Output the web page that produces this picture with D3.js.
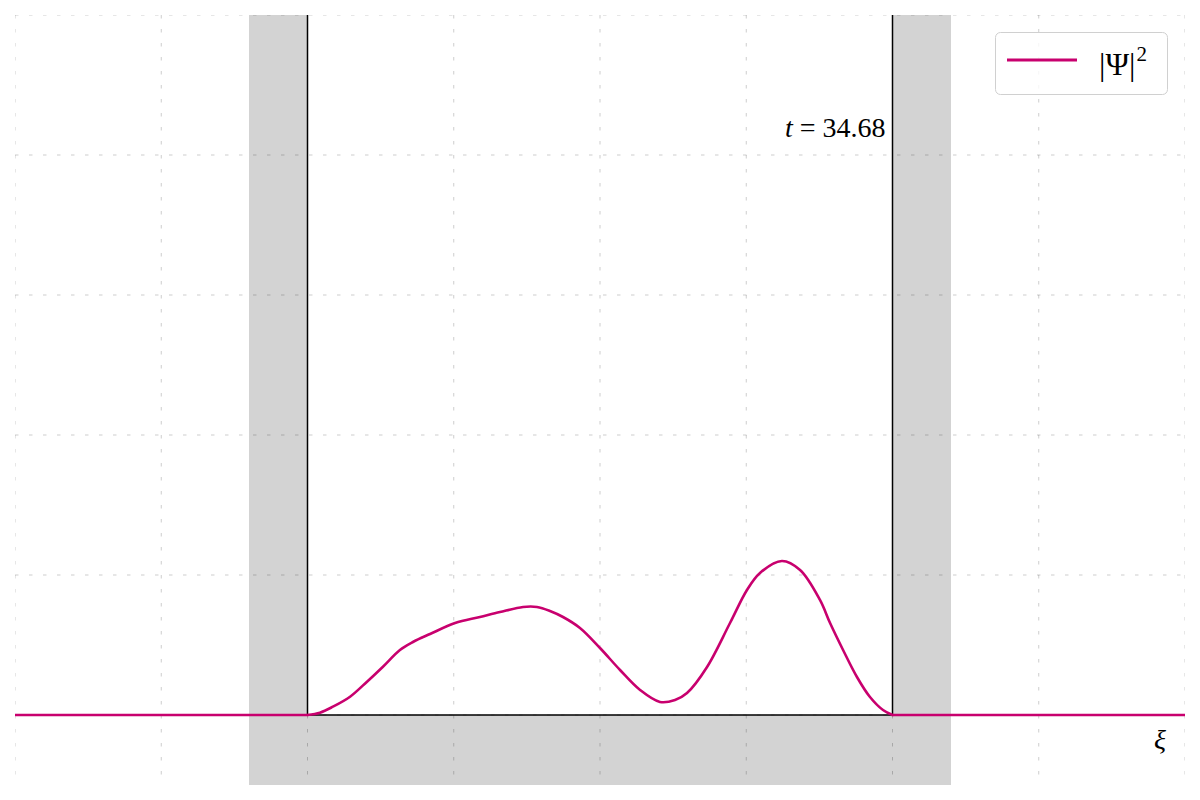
<!DOCTYPE html>
<html>
<head>
<meta charset="utf-8">
<script src="https://cdn.jsdelivr.net/npm/d3@7"></script>
<style>
  html, body { margin: 0; padding: 0; background: #fff; }
  svg { display: block; }
</style>
</head>
<body>
<svg id="chart" width="1200" height="800"></svg>
<script>
// ---- data ----
const xDomain = [-4, 4];
const yDomain = [-0.1, 1.0];
const xTicks = [-4, -3, -2, -1, 0, 1, 2, 3, 4];
const yTicks = [0, 0.2, 0.4, 0.6, 0.8, 1.0];
const wellLeft = -2, wellRight = 2, wallWidth = 0.4;
const timeLabel = "34.68";
const psiX = [-4, -3, -2.0, -1.915, -1.826, -1.709, -1.593, -1.484, -1.368, -1.279, -1.162, -0.991,
  -0.821, -0.684, -0.526, -0.431, -0.342, -0.253, -0.137, 0.000, 0.137, 0.274, 0.410,
  0.513, 0.595, 0.732, 0.889, 1.005, 1.094, 1.244, 1.368, 1.504, 1.573, 1.662, 1.757,
  1.846, 1.935, 2.0, 3, 4];
const psiY = [0, 0, 0, 0.0033, 0.0119, 0.0261, 0.0476, 0.0690, 0.0929, 0.1043, 0.1157, 0.1314,
  0.140, 0.1471, 0.1543, 0.1543, 0.1486, 0.140, 0.1243, 0.0957, 0.0643, 0.0357, 0.0186,
  0.0214, 0.0314, 0.0686, 0.1314, 0.1786, 0.2029, 0.220, 0.2071, 0.1643, 0.1314, 0.0929, 0.0543,
  0.0257, 0.0071, 0, 0, 0];

// ---- layout ----
const svg = d3.select("#chart");
const L = 15, R = 1185, T = 15, B = 785;
const x = d3.scaleLinear().domain(xDomain).range([L, R]);
const y = d3.scaleLinear().domain(yDomain).range([B, T]);
const pink = "#c8006e";

svg.append("defs").append("clipPath").attr("id", "clip")
  .append("rect").attr("x", L).attr("y", T).attr("width", R - L).attr("height", B - T);

const g = svg.append("g").attr("clip-path", "url(#clip)");

// potential walls (U shape)
const wallPts = [
  [wellLeft - wallWidth, yDomain[1]], [wellLeft, yDomain[1]], [wellLeft, 0],
  [wellRight, 0], [wellRight, yDomain[1]], [wellRight + wallWidth, yDomain[1]],
  [wellRight + wallWidth, yDomain[0]], [wellLeft - wallWidth, yDomain[0]]
];
g.append("path")
  .attr("d", d3.line().x(d => x(d[0])).y(d => y(d[1]))(wallPts) + "Z")
  .attr("fill", "#d3d3d3");

// grid
g.append("g").selectAll("line").data(xTicks).join("line")
  .attr("x1", d => x(d)).attr("x2", d => x(d)).attr("y1", T).attr("y2", B)
  .attr("stroke", "rgba(0,0,0,0.2)").attr("stroke-width", 1)
  .attr("stroke-dasharray", "3.5,10.5");
g.append("g").selectAll("line").data(yTicks).join("line")
  .attr("y1", d => y(d)).attr("y2", d => y(d)).attr("x1", L).attr("x2", R)
  .attr("stroke", "rgba(0,0,0,0.2)").attr("stroke-width", 1)
  .attr("stroke-dasharray", "3.5,10.5");

// well edges
const edge = [[wellLeft, yDomain[1]], [wellLeft, 0], [wellRight, 0], [wellRight, yDomain[1]]];
g.append("path")
  .attr("d", d3.line().x(d => x(d[0])).y(d => y(d[1]))(edge))
  .attr("fill", "none").attr("stroke", "#000").attr("stroke-width", 1.5);

// |psi|^2
const pts = psiX.map((v, i) => [v, psiY[i]]);
const inside = pts.filter(d => d[0] >= wellLeft && d[0] <= wellRight);
const leftOut = pts.filter(d => d[0] <= wellLeft);
const rightOut = pts.filter(d => d[0] >= wellRight);
const lin = d3.line().x(d => x(d[0])).y(d => y(d[1]));
const smooth = d3.line().x(d => x(d[0])).y(d => y(d[1])).curve(d3.curveCatmullRom.alpha(0.5));
const curveG = g.append("g").attr("fill", "none").attr("stroke", pink)
  .attr("stroke-width", 2.6).attr("stroke-linejoin", "round").attr("stroke-linecap", "round");
curveG.append("path").attr("d", lin(leftOut));
curveG.append("path").attr("d", smooth(inside));
curveG.append("path").attr("d", lin(rightOut));

// time label
const serif = "'Liberation Serif', 'DejaVu Serif', serif";
const tt = svg.append("text")
  .attr("x", x(wellRight) - 7).attr("y", 137)
  .attr("text-anchor", "end")
  .attr("font-family", serif).attr("font-size", 28).attr("fill", "#000");
tt.append("tspan").attr("font-style", "italic").text("t");
tt.append("tspan").text(" = " + timeLabel);

// xi label
svg.append("text").attr("x", 1160).attr("y", 749).attr("text-anchor", "middle")
  .attr("font-family", serif).attr("font-style", "italic").attr("font-size", 28)
  .text("ξ");

// legend
const lg = svg.append("g");
lg.append("rect").attr("x", 995.5).attr("y", 32.5).attr("width", 172).attr("height", 62)
  .attr("rx", 5).attr("fill", "rgba(255,255,255,0.8)").attr("stroke", "#d0d0d0").attr("stroke-width", 1);
lg.append("line").attr("x1", 1007).attr("x2", 1077).attr("y1", 60).attr("y2", 60)
  .attr("stroke", pink).attr("stroke-width", 3);
const lt = lg.append("text").attr("x", 1099).attr("y", 75)
  .attr("font-family", serif).attr("font-size", 32).attr("fill", "#000");
lt.append("tspan").text("|Ψ|");
lt.append("tspan").attr("font-size", 21).attr("dy", -14).attr("dx", 1).text("2");
</script>
</body>
</html>
